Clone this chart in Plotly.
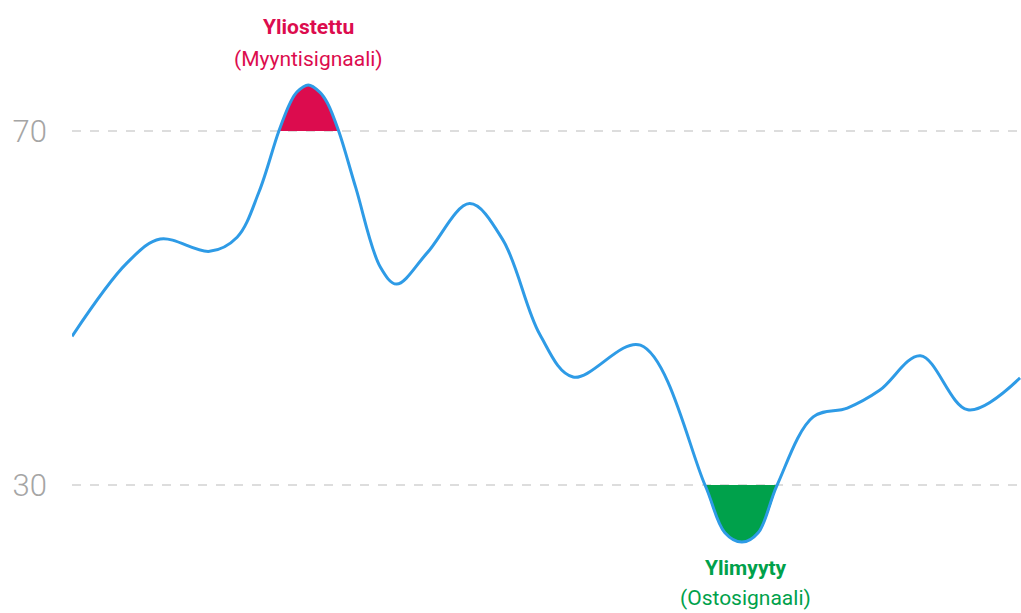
import plotly.graph_objects as go

# Data (time position, RSI value)
t = [0.0, 5.8, 9.3, 14.5, 17.4, 19.7, 21.8, 23.0, 23.7, 24.9, 26.1, 26.9, 28.1, 29.9, 32.5, 34.2,
     37.4, 41.9, 45.4, 49.3, 52.8, 59.9, 66.7, 68.8, 70.6, 72.3, 74.3, 78.1, 81.7, 85.1, 89.4, 94.4, 99.9]
rsi = [46.8, 55.1, 57.8, 56.4, 58.0, 63.1, 70.0, 73.2, 74.4, 75.2, 74.4, 73.2, 70.0, 63.6, 54.6, 52.7,
       56.2, 61.8, 57.7, 47.0, 42.2, 45.8, 30.0, 24.6, 23.55, 24.6, 30.0, 37.7, 38.7, 40.7, 44.6, 38.5, 42.1]

overbought = 70
oversold = 30
tick_vals = [30, 70]
tick_text = ["30", "70"]

over_t = [x for x, y in zip(t, rsi) if y >= overbought]
over_y = [y for y in rsi if y >= overbought]
under_t = [x for x, y in zip(t, rsi) if y <= oversold]
under_y = [y for y in rsi if y <= oversold]

RED = "#DC0C4E"
GREEN = "#00A14B"
BLUE = "#2E9BE6"

fig = go.Figure()

# overbought fill
fig.add_trace(go.Scatter(x=over_t, y=[overbought] * len(over_t), mode="lines",
                         line=dict(width=0, color=RED), hoverinfo="skip", showlegend=False))
fig.add_trace(go.Scatter(x=over_t, y=over_y, mode="lines", line=dict(width=0, color=RED, shape="spline"),
                         fill="tonexty", fillcolor=RED, hoverinfo="skip", showlegend=False))
# oversold fill
fig.add_trace(go.Scatter(x=under_t, y=[oversold] * len(under_t), mode="lines",
                         line=dict(width=0, color=GREEN), hoverinfo="skip", showlegend=False))
fig.add_trace(go.Scatter(x=under_t, y=under_y, mode="lines", line=dict(width=0, color=GREEN, shape="spline"),
                         fill="tonexty", fillcolor=GREEN, hoverinfo="skip", showlegend=False))

# RSI line
fig.add_trace(go.Scatter(x=t, y=rsi, mode="lines",
                         line=dict(color=BLUE, width=3, shape="spline", smoothing=1.0),
                         showlegend=False))

label_font = "Liberation Sans Narrow, Arial Narrow, Roboto, Liberation Sans, Arial"

fig.add_annotation(x=24.9, y=84.8 - 27 / 8.85, xref="x", yref="y", text="<b>Yliostettu</b>",
                   showarrow=False, font=dict(family=label_font, size=21, color=RED))
fig.add_annotation(x=24.9, y=84.8 - 59 / 8.85, xref="x", yref="y", text="(Myyntisignaali)",
                   showarrow=False, font=dict(family=label_font, size=21, color=RED))
fig.add_annotation(x=71.0, y=84.8 - 568 / 8.85, xref="x", yref="y", text="<b>Ylimyyty</b>",
                   showarrow=False, font=dict(family=label_font, size=21, color=GREEN))
fig.add_annotation(x=71.0, y=84.8 - 598 / 8.85, xref="x", yref="y", text="(Ostosignaali)",
                   showarrow=False, font=dict(family=label_font, size=21, color=GREEN))

fig.update_layout(
    width=1021, height=613,
    margin=dict(l=72, r=0, t=0, b=0),
    paper_bgcolor="white", plot_bgcolor="white",
    xaxis=dict(range=[0, 100], visible=False, fixedrange=True),
    yaxis=dict(range=[15.54, 84.8], tickvals=tick_vals, ticktext=tick_text,
               showgrid=True, gridcolor="#DDDDDD", gridwidth=2, griddash="dash",
               zeroline=False, showline=False, ticks="",
               tickfont=dict(family="Roboto, Liberation Sans, Arial", size=31, color="#A5A5A5", weight=300),
               ticklabelstandoff=24, fixedrange=True),
)

fig.write_html("out.html")
